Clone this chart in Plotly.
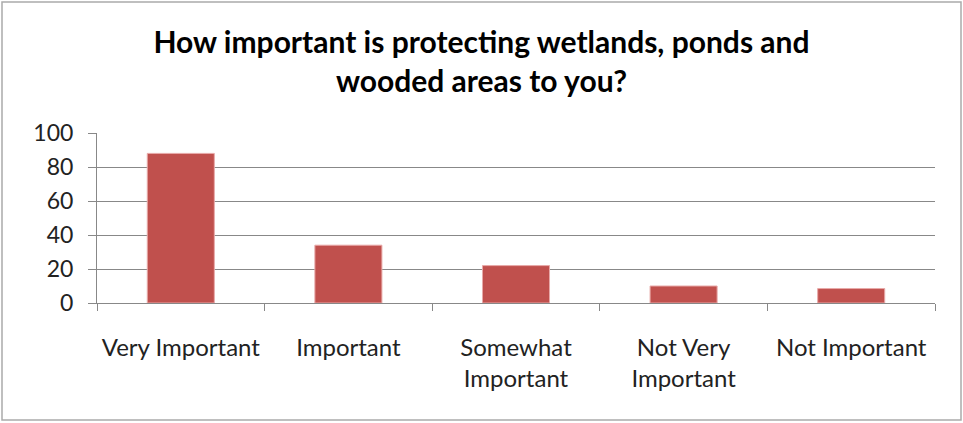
import plotly.graph_objects as go

categories = ["Very Important", "Important", "Somewhat<br>Important", "Not Very<br>Important", "Not Important"]
values = [88, 34, 22, 10, 8.5]
y_ticks = [0, 20, 40, 60, 80, 100]

fig = go.Figure(go.Bar(
    x=categories, y=values,
    marker=dict(color="#C0504D", line=dict(color="#e8a9a8", width=1)),
    width=0.4,
))

fig.update_layout(
    width=963, height=423,
    margin=dict(l=97, r=28, t=133, b=120, autoexpand=False),
    paper_bgcolor="white", plot_bgcolor="white",
    font=dict(family="Lato", color="#222"),
    title=dict(
        text="<b>How important is protecting wetlands, ponds and<br>wooded areas to you?</b>",
        x=0.5, xanchor="center", y=1 - 53 / 423, yanchor="top",
        font=dict(family="Lato", size=30, color="black"),
    ),
    showlegend=False,
)
fig.update_xaxes(
    type="category", tickson="boundaries", ticks="outside", ticklen=7,
    tickcolor="#888", showline=True, linecolor="#888", linewidth=1,
    showgrid=False, tickfont=dict(size=24, color="#222"),
    ticklabelstandoff=23, tickangle=0, automargin=False,
)
fig.update_yaxes(
    range=[0, 100], tickvals=y_ticks, ticks="outside", ticklen=8, tickcolor="#888",
    showline=True, linecolor="#888", linewidth=1,
    showgrid=True, gridcolor="#888", gridwidth=1, zeroline=False,
    tickfont=dict(size=23, color="#222"), ticklabelstandoff=10, automargin=False,
)
fig.add_shape(type="rect", xref="paper", yref="paper",
              x0=-95 / 838, x1=(961 - 97) / 838, y0=-(420 - 303) / 170, y1=(303 - 2) / 170,
              line=dict(color="#aaaaaa", width=1.5), fillcolor="rgba(0,0,0,0)", layer="below")

fig.write_html("out.html", config={"displayModeBar": False},
               post_script="document.body.style.margin='0';")
